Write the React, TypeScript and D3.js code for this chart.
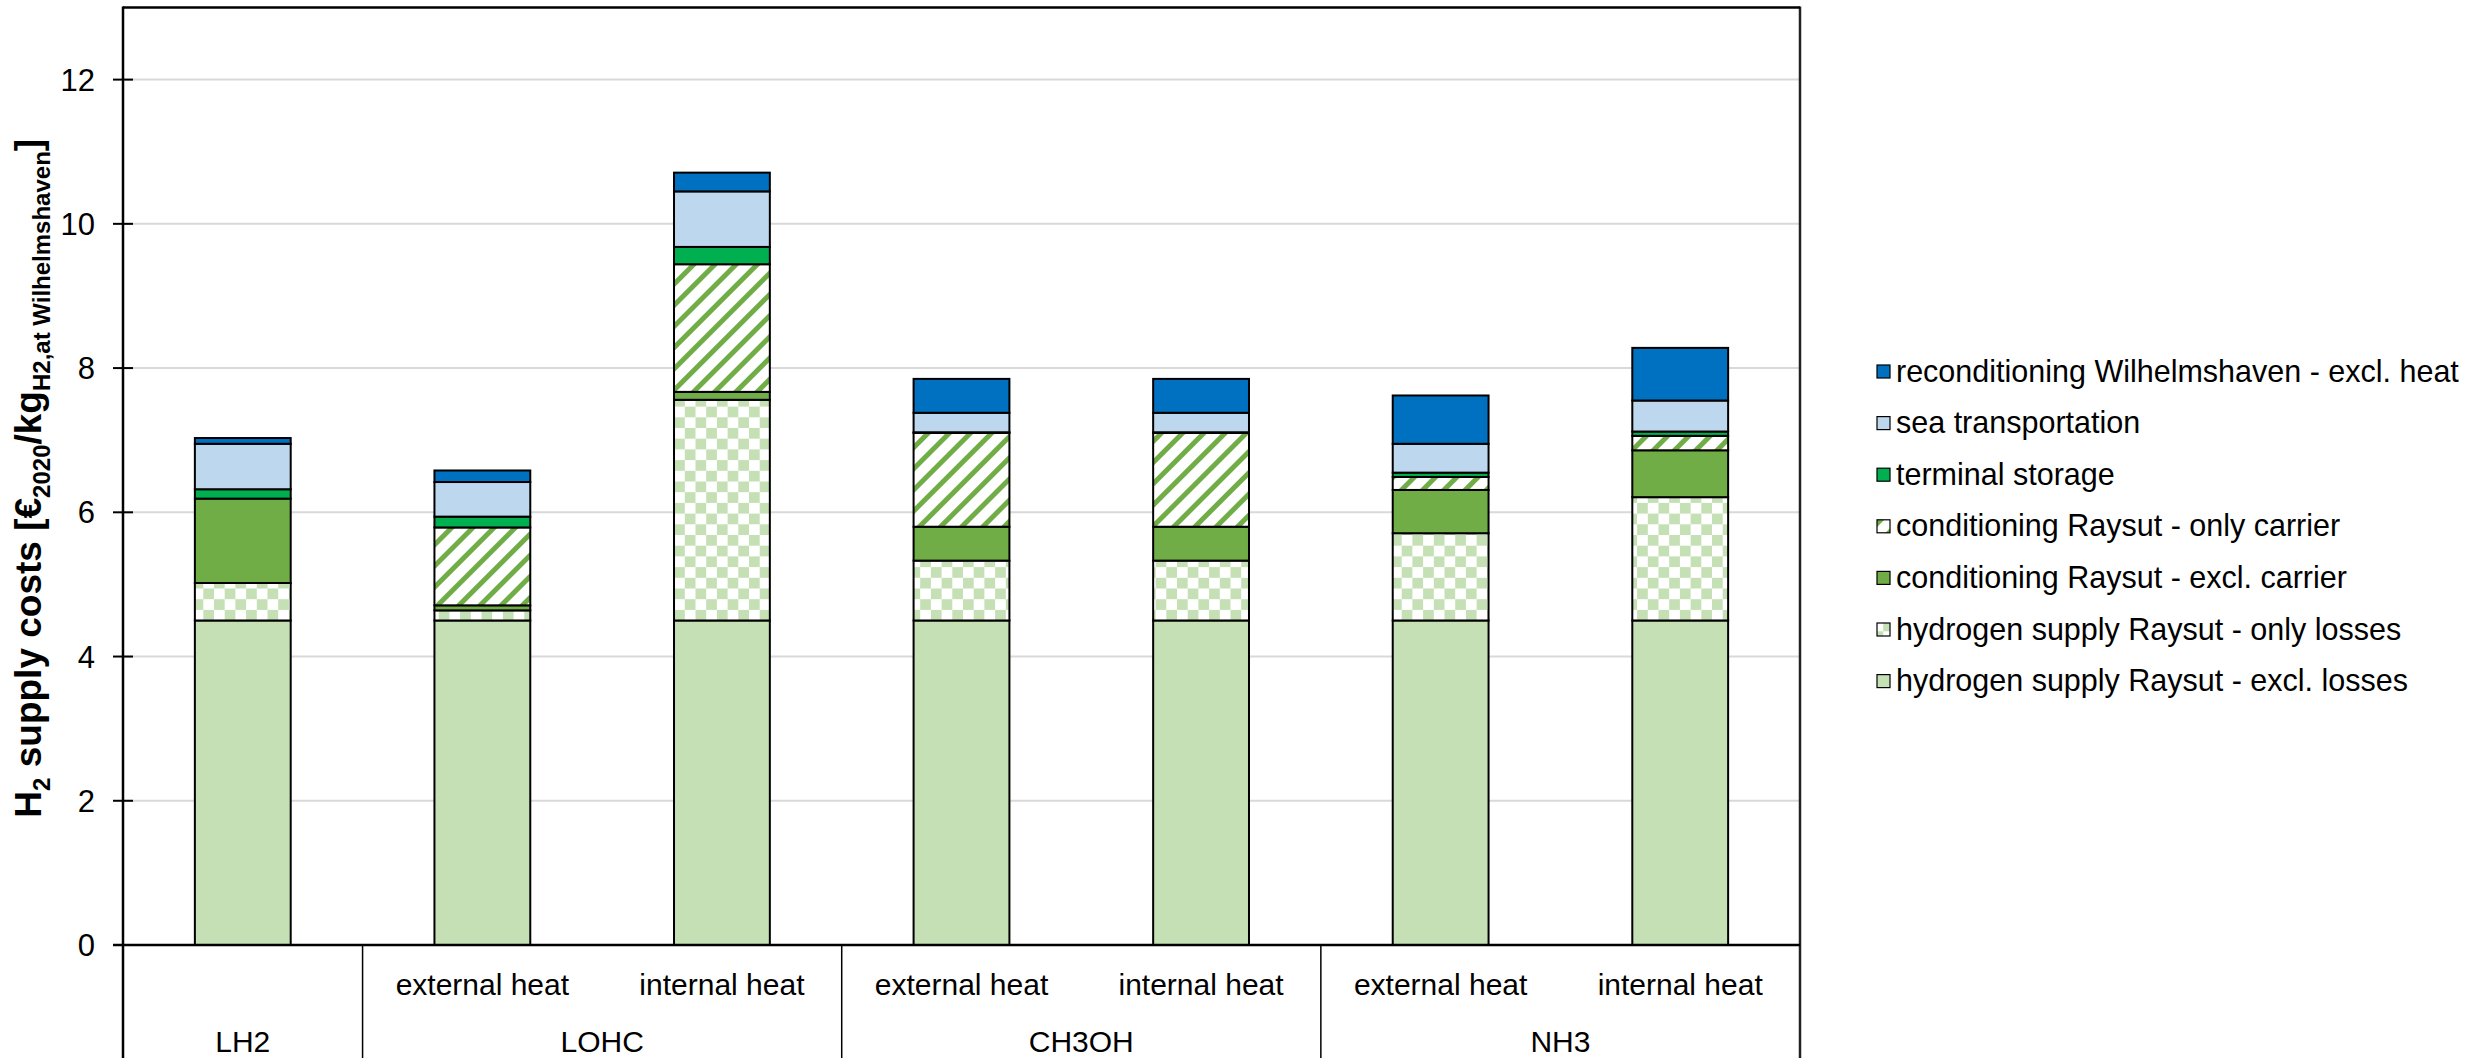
import React from "react";
import * as d3 from "d3";

const barIds = ["LH2", "LOHC-ext", "LOHC-int", "CH3OH-ext", "CH3OH-int", "NH3-ext", "NH3-int"];
const barGroups = ["LH2", "LOHC", "LOHC", "CH3OH", "CH3OH", "NH3", "NH3"];
const subLabels = ["", "external heat", "internal heat", "external heat", "internal heat", "external heat", "internal heat"];
const groups = ["LH2", "LOHC", "CH3OH", "NH3"];
const yTicks = [0, 2, 4, 6, 8, 10, 12];

const h2ExclLosses = [4.5, 4.5, 4.5, 4.5, 4.5, 4.5, 4.5];
const h2OnlyLosses = [0.52, 0.14, 3.06, 0.83, 0.83, 1.21, 1.71];
const condExclCarrier = [1.17, 0.07, 0.11, 0.47, 0.47, 0.6, 0.65];
const condOnlyCarrier = [0.0, 1.08, 1.77, 1.3, 1.3, 0.18, 0.2];
const terminalStorage = [0.13, 0.15, 0.24, 0.01, 0.01, 0.06, 0.06];
const seaTransport = [0.63, 0.48, 0.77, 0.27, 0.27, 0.4, 0.43];
const reconditioning = [0.08, 0.16, 0.26, 0.47, 0.47, 0.67, 0.73];

const seriesKeys = ["h2ExclLosses", "h2OnlyLosses", "condExclCarrier", "condOnlyCarrier", "terminalStorage", "seaTransport", "reconditioning"];
const seriesValues = [h2ExclLosses, h2OnlyLosses, condExclCarrier, condOnlyCarrier, terminalStorage, seaTransport, reconditioning];
const seriesNames = [
  "hydrogen supply Raysut - excl. losses",
  "hydrogen supply Raysut - only losses",
  "conditioning Raysut - excl. carrier",
  "conditioning Raysut - only carrier",
  "terminal storage",
  "sea transportation",
  "reconditioning Wilhelmshaven - excl. heat",
];
const seriesFills = ["#C5E0B4", "url(#checker)", "#70AD47", "url(#stripes)", "#00B050", "#BDD7EE", "#0070C0"];

const W = 2476;
const H = 1058;
const plotLeft = 123;
const plotRight = 1800;
const plotTop = 7.5;
const zeroY = 945;
const font = "'Liberation Sans', Arial, sans-serif";

export default function App() {
  const rows = barIds.map((id, i) => {
    const r: Record<string, any> = { id };
    seriesKeys.forEach((k, j) => (r[k] = seriesValues[j][i]));
    return r;
  });
  const stacked = d3.stack().keys(seriesKeys)(rows as any);

  const x = d3.scaleBand().domain(barIds).range([plotLeft, plotRight]).paddingInner(0.6).paddingOuter(0.3);
  const y = d3.scaleLinear().domain([0, 13]).range([zeroY, plotTop]);
  const step = x.step();

  const groupSpans = groups.map((g) => {
    const idx = barIds.map((_, i) => i).filter((i) => barGroups[i] === g);
    const first = idx[0];
    const last = idx[idx.length - 1];
    const x0 = (x(barIds[first]) as number) - step * 0.3;
    const x1 = (x(barIds[last]) as number) + x.bandwidth() + step * 0.3;
    return { g, x0, x1 };
  });

  const legendX = 1877;
  const legendY0 = 371;
  const legendDy = 51.6;
  const legendOrder = [6, 5, 4, 3, 2, 1, 0];

  return (
    <svg width={W} height={H} style={{ position: "absolute", left: 0, top: 0, background: "#fff" }} fontFamily={font}>
      <defs>
        <pattern id="checker" width={21.4} height={21.4} patternUnits="userSpaceOnUse">
          <rect width={21.4} height={21.4} fill="#fff" />
          <rect x={0} y={0} width={10.7} height={10.7} fill="#C5E0B4" />
          <rect x={10.7} y={10.7} width={10.7} height={10.7} fill="#C5E0B4" />
        </pattern>
        <pattern id="stripes" width={15} height={15} patternUnits="userSpaceOnUse" patternTransform="rotate(45)">
          <rect width={15} height={15} fill="#fff" />
          <rect x={0} y={0} width={5} height={15} fill="#70AD47" />
        </pattern>
      </defs>

      {yTicks.filter((t) => t > 0).map((t) => (
        <line key={"g" + t} x1={plotLeft} x2={plotRight} y1={y(t)} y2={y(t)} stroke="#D9D9D9" strokeWidth={2} />
      ))}

      {stacked.map((s, si) => (
        <g key={s.key}>
          {s.map((d, i) => {
            const h = y(d[0]) - y(d[1]);
            if (h <= 0.01) return null;
            return (
              <rect
                key={i}
                x={x(barIds[i])}
                y={y(d[1])}
                width={x.bandwidth()}
                height={h}
                fill={seriesFills[si]}
                stroke="#000"
                strokeWidth={2}
              />
            );
          })}
        </g>
      ))}

      <line x1={plotLeft} x2={plotLeft} y1={plotTop - 1} y2={H} stroke="#000" strokeWidth={2.5} />
      <line x1={plotRight} x2={plotRight} y1={plotTop - 1} y2={H} stroke="#222" strokeWidth={2.5} />
      <line x1={plotLeft} x2={plotRight} y1={plotTop} y2={plotTop} stroke="#000" strokeWidth={2.5} />
      <line x1={113} x2={plotRight} y1={zeroY} y2={zeroY} stroke="#000" strokeWidth={2.5} />

      {yTicks.map((t) => (
        <g key={"t" + t}>
          <line x1={113} x2={133} y1={y(t)} y2={y(t)} stroke="#000" strokeWidth={2} />
          <text x={95} y={y(t)} dy="0.36em" textAnchor="end" fontSize={31} fill="#000">
            {t}
          </text>
        </g>
      ))}

      {groupSpans.slice(1).map((gs) => (
        <line key={"d" + gs.g} x1={gs.x0} x2={gs.x0} y1={zeroY} y2={H} stroke="#000" strokeWidth={1.5} />
      ))}

      {barIds.map((id, i) => (
        <text key={"s" + id} x={(x(id) as number) + x.bandwidth() / 2} y={995} textAnchor="middle" fontSize={30} fill="#000">
          {subLabels[i]}
        </text>
      ))}
      {groupSpans.map((gs) => (
        <text key={"l" + gs.g} x={(gs.x0 + gs.x1) / 2} y={1052} textAnchor="middle" fontSize={30} fill="#000">
          {gs.g}
        </text>
      ))}

      <text transform={`translate(41,${(plotTop + zeroY) / 2 + 2}) rotate(-90)`} textAnchor="middle" fontSize={37} fontWeight="bold" fill="#000">
        H<tspan fontSize={24} dy={9}>2</tspan>
        <tspan dy={-9}> supply costs [€</tspan>
        <tspan fontSize={24} dy={9}>2020</tspan>
        <tspan dy={-9}>/kg</tspan>
        <tspan fontSize={24} dy={9}>H2,at Wilhelmshaven</tspan>
        <tspan dy={-9}>]</tspan>
      </text>

      {legendOrder.map((si, k) => {
        const cy = legendY0 + k * legendDy;
        return (
          <g key={"lg" + si}>
            <rect x={legendX} y={cy - 6} width={13} height={13} fill={seriesFills[si]} stroke="#000" strokeWidth={1.2} />
            <text x={legendX + 19} y={cy} dy="0.35em" fontSize={30.5} fill="#000">
              {seriesNames[si]}
            </text>
          </g>
        );
      })}
    </svg>
  );
}
